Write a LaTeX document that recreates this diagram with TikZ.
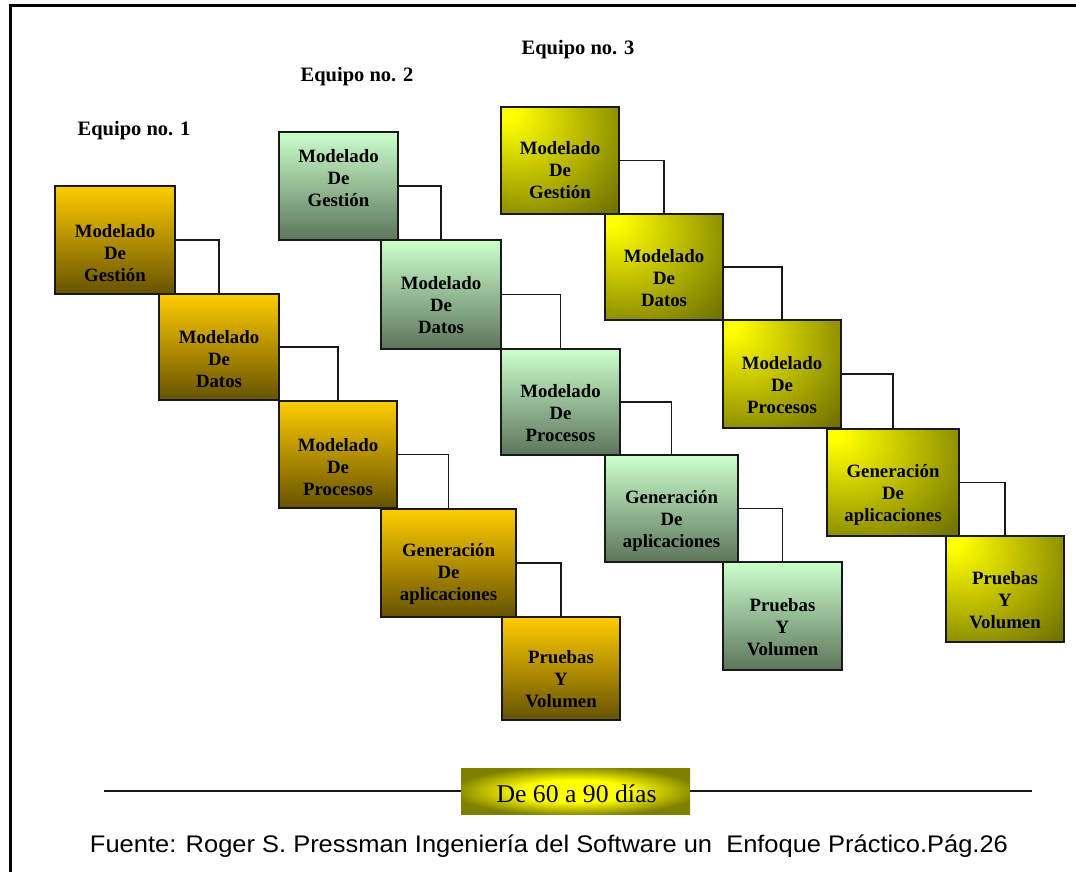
\documentclass[tikz,border=0pt]{standalone}
\usepackage{fontspec}
\setmainfont{Liberation Serif}
\newfontfamily\arialf{Liberation Sans}
\usepackage{graphicx}
\definecolor{goldtop}{RGB}{255,204,0}
\definecolor{goldbot}{RGB}{102,82,0}
\definecolor{greentop}{RGB}{204,255,204}
\definecolor{greenbot}{RGB}{92,117,92}
\definecolor{olivedark}{RGB}{115,115,0}
\definecolor{olivemid}{RGB}{128,128,0}
\definecolor{lineclr}{RGB}{25,25,25}
% the path's bounding box is mapped onto [-25bp,25bp]^2 of a shading
\pgfdeclareradialshading{glowtl}{\pgfpoint{-24bp}{24bp}}{color(0bp)=(yellow); color(4bp)=(yellow); color(48bp)=(olivedark); color(90bp)=(olivedark)}
\pgfdeclareradialshading{glowmid}{\pgfpoint{0bp}{0bp}}{color(0bp)=(yellow); color(12bp)=(yellow); color(27bp)=(olivemid); color(50bp)=(olivemid)}
\tikzset{
  stagebase/.style={draw=lineclr, line width=1.8pt, inner sep=0pt},
  goldbox/.style={stagebase, top color=goldtop, bottom color=goldbot},
  greenbox/.style={stagebase, top color=greentop, bottom color=greenbot},
  olivebox/.style={stagebase, shading=glowtl},
  stagetext/.style={align=center, inner sep=0pt, text=black, font=\fontsize{18.8}{22}\selectfont\bfseries},
  teamlabel/.style={inner sep=0pt, text=black, font=\fontsize{20.5}{24}\selectfont\bfseries},
  conn/.style={draw=lineclr, line width=1.5pt},
  rule/.style={draw=lineclr, line width=1.8pt},
  frame/.style={draw=black, line width=3pt},
  daysbox/.style={inner sep=0pt, shading=glowmid},
  footer/.style={inner sep=0pt, text=black, font=\arialf\fontsize{24}{28}\selectfont}
}
\newcommand\stg[8]{%
  \node[#2, minimum width=#5pt, minimum height=#6pt] (#1) at (#3,#4) {};
  \node[stagetext] (#1t) at ([yshift=#8pt]#1.center) {#7};
}
\begin{document}
\begin{tikzpicture}[x=1pt,y=-1pt]
\useasboundingbox[fill=white] (0,0) rectangle (1076,872);
% frame
\coordinate (fbl) at (10.5,872);
\coordinate (ftl) at (10.5,5.5);
\coordinate (ftr) at (1076,5.5);
\draw[frame] (fbl) -- (ftl) -- (ftr);

% team labels
\node[teamlabel] (eq1) at (134,131) {Equipo no. 1};
\node[teamlabel] (eq2) at (357,77) {Equipo no. 2};
\node[teamlabel] (eq3) at (578,50) {Equipo no. 3};

% team 1
\stg{ta}{goldbox}{115}{240}{120}{108}{Modelado\\De\\Gestión}{-13}
\stg{tb}{goldbox}{219}{347}{120}{106}{Modelado\\De\\Datos}{-12}
\stg{tc}{goldbox}{338}{454.5}{118}{107}{Modelado\\De\\Procesos}{-13}
\stg{td}{goldbox}{448.5}{563}{135}{108}{Generación\\De\\aplicaciones}{-11}
\stg{te}{goldbox}{561}{668.5}{118}{103}{Pruebas\\Y\\Volumen}{-11}
\draw[conn] (ta.east) -| (tb.north);
\draw[conn] (tb.east) -| (tc.north);
\draw[conn] (tc.east) -| (td.north);
\draw[conn] (td.east) -| (te.north);

% team 2
\stg{ga}{greenbox}{338.5}{186}{119}{108}{Modelado\\De\\Gestión}{8}
\stg{gb}{greenbox}{441}{294.5}{120}{109}{Modelado\\De\\Datos}{-11}
\stg{gc}{greenbox}{560.5}{402}{119}{106}{Modelado\\De\\Procesos}{-11}
\stg{gd}{greenbox}{671.5}{508.5}{133}{107}{Generación\\De\\aplicaciones}{-12}
\stg{ge}{greenbox}{782.5}{616}{119}{108}{Pruebas\\Y\\Volumen}{-11}
\draw[conn] (ga.east) -| (gb.north);
\draw[conn] (gb.east) -| (gc.north);
\draw[conn] (gc.east) -| (gd.north);
\draw[conn] (gd.east) -| (ge.north);

% team 3
\stg{oa}{olivebox}{560}{160.5}{118}{107}{Modelado\\De\\Gestión}{-10}
\stg{ob}{olivebox}{664}{267}{118}{106}{Modelado\\De\\Datos}{-11}
\stg{oc}{olivebox}{782}{374}{118}{108}{Modelado\\De\\Procesos}{-11}
\stg{od}{olivebox}{893}{482.5}{132}{107}{Generación\\De\\aplicaciones}{-12}
\stg{oe}{olivebox}{1005}{589}{118}{106}{Pruebas\\Y\\Volumen}{-11}
\draw[conn] (oa.east) -| (ob.north);
\draw[conn] (ob.east) -| (oc.north);
\draw[conn] (oc.east) -| (od.north);
\draw[conn] (od.east) -| (oe.north);

% time bar
\node[daysbox, minimum width=229pt, minimum height=46pt] (days) at (575.5,791) {};
\node[inner sep=0pt, text=black] (dayst) at (576.5,794) {\resizebox{160pt}{\height}{\fontsize{25.5}{28}\selectfont De 60 a 90 días}};
\coordinate (rl) at (104,791);
\coordinate (rr) at (1032,791);
\draw[rule] (rl) -- (days.west);
\draw[rule] (days.east) -- (rr);

% source
\node[footer] (src) at (549,846) {\resizebox{918pt}{\height}{Fuente: Roger S. Pressman Ingeniería del Software un~ Enfoque Práctico.Pág.26}};
\end{tikzpicture}
\end{document}
